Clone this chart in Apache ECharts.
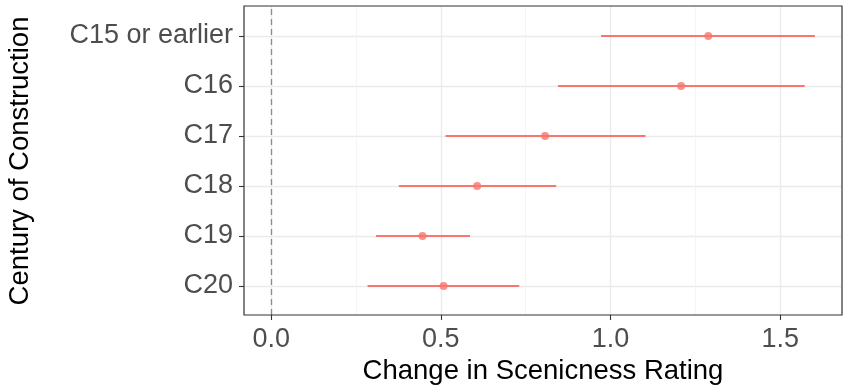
<!DOCTYPE html>
<html>
<head>
<meta charset="utf-8">
<script src="https://cdn.jsdelivr.net/npm/echarts@6/dist/echarts.min.js"></script>
<style>html,body{margin:0;padding:0;background:#fff;}#c{width:851px;height:388px;}</style>
</head>
<body>
<div id="c"></div>
<script>
const categories = ['C15 or earlier', 'C16', 'C17', 'C18', 'C19', 'C20'];
const estimates = [1.288, 1.208, 0.807, 0.607, 0.446, 0.508];
const lowerCI = [0.972, 0.845, 0.514, 0.376, 0.309, 0.284];
const upperCI = [1.602, 1.572, 1.103, 0.840, 0.586, 0.731];
const xTicks = [0, 0.5, 1.0, 1.5];
const xMinorGrid = [0.25, 0.75, 1.25];
const refLine = 0;

const FONT = '"Liberation Sans", Arial, sans-serif';
const RED = '#F8766D';
const XMIN = -0.08, XMAX = 1.682;

const chart = echarts.init(document.getElementById('c'), null, {renderer: 'canvas'});

const gridMarks = [];
xMinorGrid.forEach(v => gridMarks.push({xAxis: v, lineStyle: {color: '#f3f3f3', width: 0.8, type: 'solid'}}));
xTicks.forEach(v => gridMarks.push({xAxis: v, lineStyle: {color: '#ebebeb', width: 1.4, type: 'solid'}}));

const option = {
  animation: false,
  backgroundColor: '#ffffff',
  textStyle: {fontFamily: FONT},
  grid: [
    {left: 244, top: 36, width: 598, height: 250, show: false, outerBoundsMode: 'none', containLabel: false},
    {left: 244, top: 6, width: 598, height: 309, show: true, borderColor: '#333333', borderWidth: 1.2, backgroundColor: 'transparent', z: 10, outerBoundsMode: 'none', containLabel: false}
  ],
  xAxis: [
    {
      gridIndex: 1, type: 'value', min: XMIN, max: XMAX, position: 'bottom',
      axisLine: {show: false, onZero: false},
      axisTick: {show: true, customValues: xTicks, length: 5, lineStyle: {color: '#333333', width: 1.1}},
      axisLabel: {customValues: xTicks, formatter: v => Number(v).toFixed(1), fontSize: 27, color: '#4d4d4d', margin: 11, fontFamily: FONT},
      splitLine: {show: false},
      name: 'Change in Scenicness Rating', nameLocation: 'middle', nameGap: 40,
      nameTextStyle: {fontSize: 27.5, color: '#000000', fontFamily: FONT}
    },
    {gridIndex: 0, type: 'value', min: XMIN, max: XMAX, show: false, splitLine: {show: false}, axisLine: {onZero: false}}
  ],
  yAxis: [
    {gridIndex: 1, type: 'value', min: 0, max: 1, show: false, splitLine: {show: false}, axisLine: {onZero: false}},
    {
      gridIndex: 0, type: 'category', data: categories, boundaryGap: false, inverse: true, position: 'left',
      axisLine: {show: false, onZero: false},
      axisTick: {show: true, length: 5, lineStyle: {color: '#333333', width: 1.1}},
      axisLabel: {fontSize: 27, color: '#4d4d4d', margin: 11, fontFamily: FONT},
      splitLine: {show: true, lineStyle: {color: '#ebebeb', width: 1.4}},
      name: 'Century of Construction', nameLocation: 'middle', nameGap: 210, nameRotate: 90,
      nameTextStyle: {fontSize: 27.5, color: '#000000', fontFamily: FONT}
    }
  ],
  series: [
    {
      type: 'line', xAxisIndex: 0, yAxisIndex: 0, data: [], silent: true, z: 1,
      markLine: {
        silent: true, symbol: ['none', 'none'], label: {show: false}, animation: false,
        data: gridMarks.concat([{xAxis: refLine, lineStyle: {color: '#8c8c8c', width: 1.3, type: [6, 4]}}])
      }
    },
    {
      type: 'custom', xAxisIndex: 1, yAxisIndex: 1, z: 5,
      encode: {x: [0, 1], y: 2},
      data: categories.map((c, i) => [lowerCI[i], upperCI[i], i]),
      renderItem: function (params, api) {
        const p1 = api.coord([api.value(0), api.value(2)]);
        const p2 = api.coord([api.value(1), api.value(2)]);
        return {type: 'line', shape: {x1: p1[0], y1: p1[1], x2: p2[0], y2: p2[1]},
                style: {stroke: RED, lineWidth: 2}};
      }
    },
    {
      type: 'scatter', xAxisIndex: 1, yAxisIndex: 1, z: 6,
      symbol: 'circle', symbolSize: 8,
      itemStyle: {color: RED},
      data: categories.map((c, i) => [estimates[i], i])
    }
  ]
};
chart.setOption(option);
</script>
</body>
</html>
